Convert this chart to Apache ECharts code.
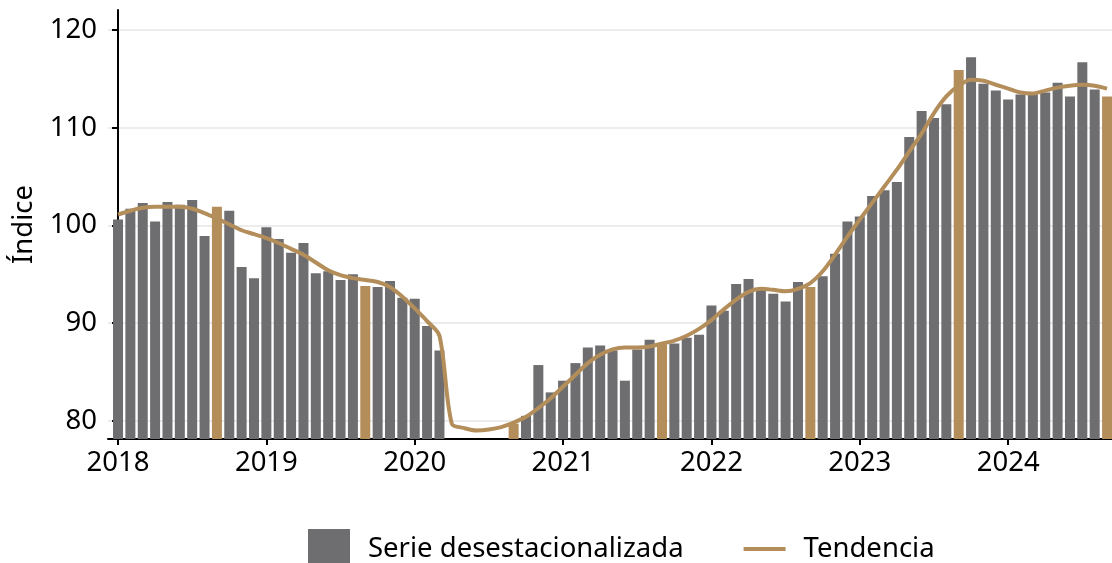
<!DOCTYPE html>
<html>
<head>
<meta charset="utf-8">
<script src="https://cdn.jsdelivr.net/npm/echarts@6/dist/echarts.min.js"></script>
<style>
  html, body { margin: 0; padding: 0; background: #fff; }
  #chart { width: 1112px; height: 563px; }
</style>
</head>
<body>
<div id="chart"></div>
<script>
// meses de enero 2018 a septiembre 2024
const months = []
for (let y = 2018; y <= 2024; y++) {
  for (let m = 1; m <= 12; m++) {
    if (y === 2024 && m > 9) break
    months.push(y + '-' + String(m).padStart(2, '0'))
  }
}

const yearTicks = [0, 12, 24, 36, 48, 60, 72]
const yearLabels = ['2018', '2019', '2020', '2021', '2022', '2023', '2024']
const yTicks = [80, 90, 100, 110, 120]

// Serie desestacionalizada (abr-ago 2020 fuera de escala)
const serie = [
  100.6, 101.7, 102.3, 100.4, 102.4, 102.1, 102.6, 98.9, 101.9, 101.5, 95.75, 94.6,
  99.8, 98.6, 97.2, 98.2, 95.1, 95.3, 94.4, 95.0, 93.8, 93.7, 94.3, 92.6,
  92.5, 89.7, 87.2, null, null, null, null, null, 79.7, 80.5, 85.7, 82.9,
  84.1, 85.9, 87.5, 87.7, 87.2, 84.1, 87.3, 88.3, 87.8, 87.9, 88.5, 88.8,
  91.8, 91.25, 94.0, 94.5, 93.4, 93.0, 92.2, 94.2, 93.7, 94.8, 97.1, 100.4,
  100.9, 103.0, 103.6, 104.45, 109.05, 111.7, 111.0, 112.4, 115.9, 117.2, 114.5, 113.8,
  112.9, 113.4, 113.4, 113.6, 114.6, 113.2, 116.7, 113.9, 113.2,
]

// Tendencia
const tendencia = [
  101.1, 101.5, 101.8, 101.9, 101.9, 101.9, 101.7, 101.25, 100.7, 100.1, 99.5, 99.1,
  98.7, 98.2, 97.6, 97.0, 96.2, 95.4, 94.9, 94.6, 94.4, 94.2, 93.7, 92.7,
  91.5, 90.2, 88.7, 79.7, 79.25, 79.0, 79.1, 79.35, 79.8, 80.4, 81.3, 82.3,
  83.5, 84.7, 85.9, 86.75, 87.3, 87.5, 87.5, 87.6, 87.9, 88.2, 88.7, 89.4,
  90.3, 91.4, 92.4, 93.2, 93.5, 93.4, 93.25, 93.5, 94.1, 95.3, 97.0, 98.85,
  100.6, 102.3, 104.0, 105.7, 107.55, 109.4, 111.5, 113.2, 114.3, 114.9, 114.8, 114.4,
  114.0, 113.6, 113.5, 113.8, 114.1, 114.3, 114.4, 114.3, 114.0,
]

const GRIS = '#6e6e70'
const ORO = '#b38e5b'
const FONT = 'Noto Sans'
const FS = 27.5

const barData = serie.map((v, i) => ({
  value: [i, v],
  itemStyle: { color: months[i].endsWith('-09') ? ORO : GRIS },
}))
const lineData = tendencia.map((v, i) => [i, v])

const chart = echarts.init(document.getElementById('chart'))
chart.setOption({
  animation: false,
  textStyle: { fontFamily: FONT },
  grid: { left: 108, right: 0, top: 10, bottom: 124 },
  xAxis: {
    type: 'value',
    min: -0.81,
    max: 80.4,
    axisLine: { show: true, lineStyle: { color: '#000', width: 2 } },
    axisTick: { show: true, length: 6, customValues: yearTicks, lineStyle: { color: '#000', width: 2 } },
    axisLabel: {
      customValues: yearTicks,
      formatter: v => yearLabels[yearTicks.indexOf(v)],
      color: '#000',
      fontSize: FS,
      fontFamily: FONT,
      margin: 10,
    },
    splitLine: { show: false },
  },
  yAxis: {
    type: 'value',
    min: 78.13,
    max: 122.05,
    name: 'Índice',
    nameLocation: 'middle',
    nameRotate: 90,
    nameGap: 70,
    nameTextStyle: { color: '#000', fontSize: FS, fontFamily: FONT },
    axisLine: { show: true, lineStyle: { color: '#000', width: 2 } },
    axisTick: { show: true, length: 6, customValues: yTicks, lineStyle: { color: '#000', width: 2 } },
    axisLabel: { customValues: yTicks, color: '#000', fontSize: FS, fontFamily: FONT, margin: 11 },
    splitLine: { show: true, lineStyle: { color: '#ececec', width: 2 } },
  },
  legend: {
    left: 303,
    top: 524,
    itemWidth: 42,
    itemHeight: 40,
    itemGap: 60,
    symbolKeepAspect: true,
    textStyle: { color: '#000', fontSize: FS, fontFamily: FONT, padding: [0, 0, 0, 13] },
    data: [
      { name: 'Serie desestacionalizada', icon: 'rect', itemStyle: { color: GRIS } },
      { name: 'Tendencia', icon: 'path://M0,0L40,0L40,4L0,4Z', itemStyle: { color: ORO } },
    ],
  },
  series: [
    {
      name: 'Serie desestacionalizada',
      type: 'bar',
      data: barData,
      barWidth: 10,
      itemStyle: { color: GRIS },
    },
    {
      name: 'Tendencia',
      type: 'line',
      data: lineData,
      smooth: 0.3,
      showSymbol: false,
      symbol: 'none',
      lineStyle: { color: ORO, width: 4 },
      itemStyle: { color: ORO },
    },
  ],
})
</script>
</body>
</html>
